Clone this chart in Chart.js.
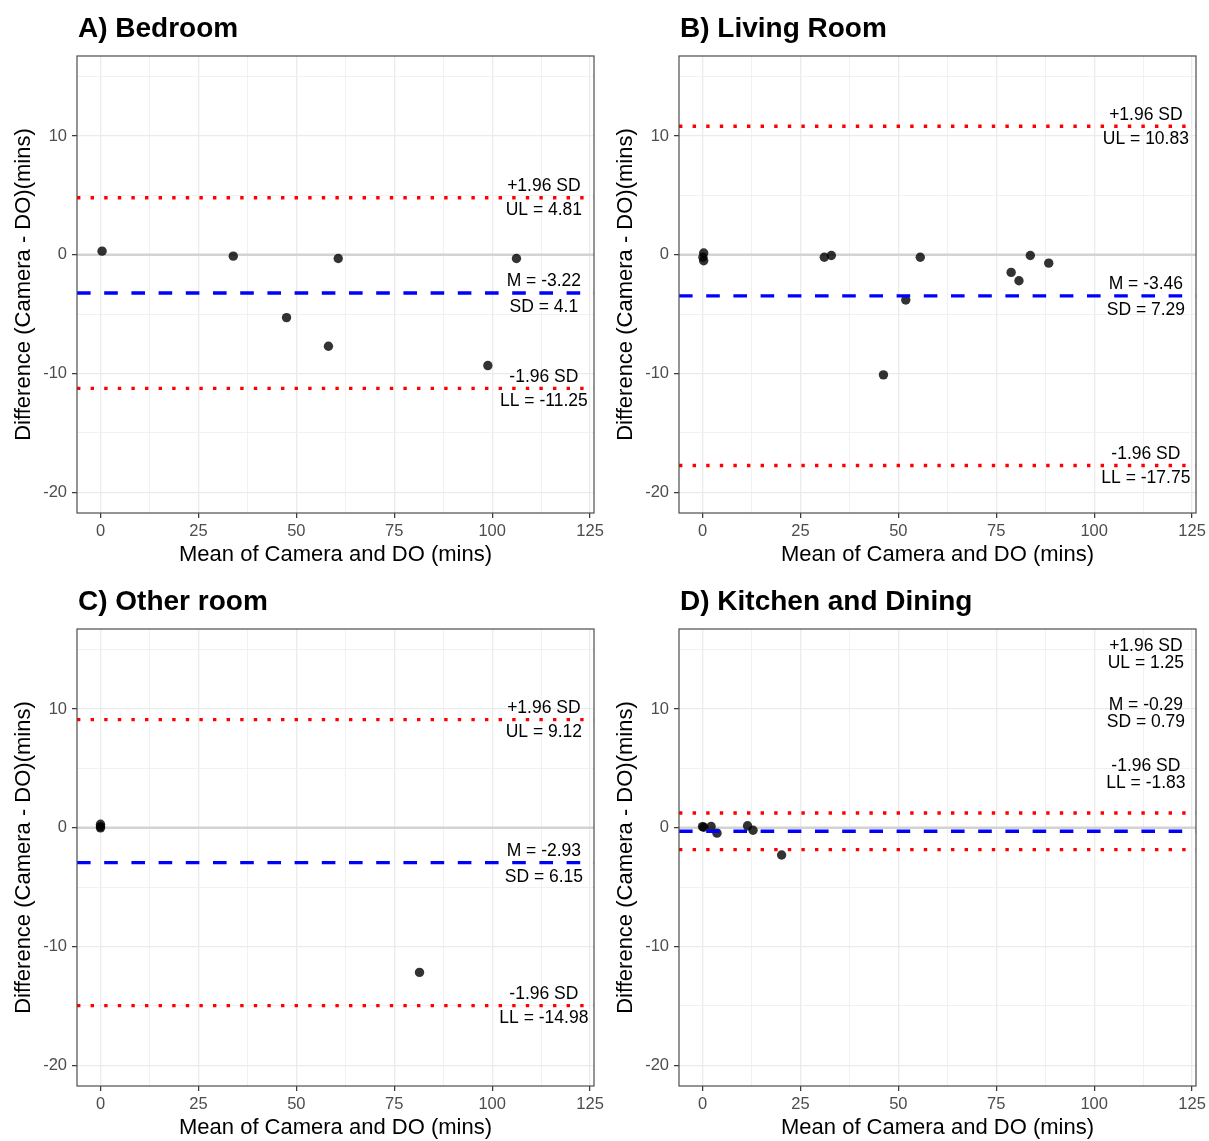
<!DOCTYPE html>
<html>
<head>
<meta charset="utf-8">
<script src="https://cdn.jsdelivr.net/npm/chart.js@4/dist/chart.umd.min.js"></script>
<style>
  body { margin: 0; background: #fff; }
  .panel { position: absolute; width: 604px; height: 572px; }
</style>
</head>
<body>
<div class="panel" style="left:0;top:0"><canvas id="bedroom"></canvas></div>
<div class="panel" style="left:602px;top:0"><canvas id="living"></canvas></div>
<div class="panel" style="left:0;top:573px"><canvas id="other"></canvas></div>
<div class="panel" style="left:602px;top:573px"><canvas id="kitchen"></canvas></div>
<script>
// Bland-Altman values
const panelTitles = ['A) Bedroom', 'B) Living Room', 'C) Other room', 'D) Kitchen and Dining'];

const bedroomX = [0.4, 33.9, 60.7, 106.2, 47.5, 58.2, 98.9];
const bedroomY = [0.31, -0.11, -0.31, -0.31, -5.29, -7.70, -9.33];

const livingX = [0.3, 0.1, 0.3, 31.1, 32.9, 55.6, 51.9, 46.2, 78.8, 80.8, 83.7, 88.4];
const livingY = [0.15, -0.2, -0.5, -0.2, -0.06, -0.2, -3.81, -10.11, -1.48, -2.18, -0.06, -0.7];

const otherX = [0, 0, 0, 81.45];
const otherY = [0.3, 0.1, 0, -12.18];

const kitchenX = [0, 0.3, 2.2, 3.7, 11.5, 12.9, 20.2];
const kitchenY = [0.1, 0.05, 0.11, -0.45, 0.17, -0.2, -2.29];

const means = [-3.22, -3.46, -2.93, -0.29];
const sds = [4.1, 7.29, 6.15, 0.79];
const upperLimits = [4.81, 10.83, 9.12, 1.25];
const lowerLimits = [-11.25, -17.75, -14.98, -1.83];

const xMajorTicks = [0, 25, 50, 75, 100, 125];
const xMinorTicks = [12.5, 37.5, 62.5, 87.5, 112.5];
const yMajorTicks = [-20, -10, 0, 10];
const yMinorTicks = [-15, -5, 5, 15];

const X_MIN = -6, X_MAX = 126;
const Y_MIN = -21.75, Y_MAX = 16.75;
const LABEL_X = 113.2;
const FONT = '"Liberation Sans", Arial, sans-serif';

Chart.defaults.font.family = FONT;
Chart.defaults.animation = false;

const panelFrame = {
    id: 'panelFrame',
    afterDraw(chart) {
        const {ctx, chartArea: a} = chart;
        ctx.save();
        ctx.strokeStyle = '#4d4d4d';
        ctx.lineWidth = 1.2;
        ctx.strokeRect(a.left, a.top, a.right - a.left, a.bottom - a.top);
        ctx.restore();
    }
};

const panelTitle = {
    id: 'panelTitle',
    afterDraw(chart, args, opts) {
        const ctx = chart.ctx;
        ctx.save();
        ctx.font = 'bold 28px ' + FONT;
        ctx.fillStyle = '#000';
        ctx.textAlign = 'left';
        ctx.textBaseline = 'middle';
        ctx.fillText(opts.text, 78, 29);
        ctx.restore();
    }
};

// text next to the limit lines
const refLabels = {
    id: 'refLabels',
    afterDatasetsDraw(chart, args, opts) {
        const {ctx, scales: {x, y}} = chart;
        ctx.save();
        ctx.font = '17.5px ' + FONT;
        ctx.fillStyle = '#000';
        ctx.textAlign = 'center';
        ctx.textBaseline = 'middle';
        const cx = x.getPixelForValue(LABEL_X);
        opts.pairs.forEach(p => {
            const py = y.getPixelForValue(p.at);
            ctx.fillText(p.top, cx, py - p.up);
            ctx.fillText(p.bottom, cx, py + p.down);
        });
        ctx.restore();
    }
};

const isMajor = (list, v) => list.some(t => Math.abs(t - v) < 1e-6);

function spanLine(y) {
    return [{x: X_MIN, y: y}, {x: X_MAX, y: y}];
}

function makePanel(id, idx, xs, ys, anchors, gapUp, gapDown, meanExtra) {
    const points = xs.map((x, i) => ({x: x, y: ys[i]}));
    const pairs = [
        {top: '+1.96 SD', bottom: 'UL = ' + upperLimits[idx], at: anchors[0], up: gapUp, down: gapDown},
        {top: 'M = ' + means[idx], bottom: 'SD = ' + sds[idx], at: anchors[1], up: gapUp, down: gapDown + meanExtra},
        {top: '-1.96 SD', bottom: 'LL = ' + lowerLimits[idx], at: anchors[2], up: gapUp, down: gapDown}
    ];

    new Chart(document.getElementById(id), {
        type: 'scatter',
        data: {
            datasets: [
                {type: 'line', data: spanLine(upperLimits[idx]), borderColor: '#ff0000', borderWidth: 3.3,
                 borderDash: [3.4, 10.2], pointRadius: 0, order: 0},
                {type: 'line', data: spanLine(means[idx]), borderColor: '#0000ff', borderWidth: 3.4,
                 borderDash: [13.6, 13.6], pointRadius: 0, order: 0},
                {type: 'line', data: spanLine(lowerLimits[idx]), borderColor: '#ff0000', borderWidth: 3.3,
                 borderDash: [3.4, 10.2], pointRadius: 0, order: 0},
                {data: points, backgroundColor: 'rgba(0,0,0,0.8)', borderWidth: 0, pointRadius: 4.7, order: 1},
                {type: 'line', data: spanLine(0), borderColor: '#d3d3d3', borderWidth: 2.6, pointRadius: 0, order: 2}
            ]
        },
        options: {
            responsive: true,
            maintainAspectRatio: false,
            layout: {padding: {top: 56, right: 10, left: 0, bottom: 0}},
            plugins: {
                legend: {display: false},
                tooltip: {enabled: false},
                panelTitle: {text: panelTitles[idx]},
                refLabels: {pairs: pairs}
            },
            scales: {
                x: {
                    type: 'linear',
                    min: X_MIN,
                    max: X_MAX,
                    afterBuildTicks: s => { s.ticks = xMajorTicks.concat(xMinorTicks).map(v => ({value: v})); },
                    afterFit: s => { s.height = 59; },
                    border: {display: false},
                    grid: {
                        color: c => isMajor(xMajorTicks, c.tick.value) ? '#ebebeb' : '#efefef',
                        lineWidth: c => isMajor(xMajorTicks, c.tick.value) ? 1.3 : 0.9,
                        tickLength: 5,
                        tickWidth: 1.2,
                        tickColor: c => isMajor(xMajorTicks, c.tick.value) ? '#333' : 'rgba(0,0,0,0)'
                    },
                    ticks: {
                        autoSkip: false,
                        maxRotation: 0,
                        padding: 4,
                        color: '#4d4d4d',
                        font: {size: 16.5},
                        callback: v => isMajor(xMajorTicks, v) ? String(v) : ''
                    },
                    title: {
                        display: true,
                        text: 'Mean of Camera and DO (mins)',
                        color: '#000',
                        font: {size: 22, lineHeight: 1.2},
                        padding: {top: 0, bottom: 4}
                    }
                },
                y: {
                    type: 'linear',
                    min: Y_MIN,
                    max: Y_MAX,
                    afterBuildTicks: s => { s.ticks = yMajorTicks.concat(yMinorTicks).map(v => ({value: v})); },
                    afterFit: s => { s.width = 77; },
                    border: {display: false},
                    grid: {
                        color: c => isMajor(yMajorTicks, c.tick.value) ? '#ebebeb' : '#efefef',
                        lineWidth: c => isMajor(yMajorTicks, c.tick.value) ? 1.3 : 0.9,
                        tickLength: 5,
                        tickWidth: 1.2,
                        tickColor: c => isMajor(yMajorTicks, c.tick.value) ? '#333' : 'rgba(0,0,0,0)'
                    },
                    ticks: {
                        autoSkip: false,
                        padding: 5,
                        color: '#4d4d4d',
                        font: {size: 16.5},
                        callback: v => isMajor(yMajorTicks, v) ? String(v) : ''
                    },
                    title: {
                        display: true,
                        text: 'Difference (Camera - DO)(mins)',
                        color: '#000',
                        font: {size: 22, lineHeight: 1.2},
                        padding: {top: 11.2, bottom: 0}
                    }
                }
            }
        },
        plugins: [panelFrame, panelTitle, refLabels]
    });
}

makePanel('bedroom', 0, bedroomX, bedroomY, [upperLimits[0], means[0], lowerLimits[0]], 11.5, 12.5, 2);
makePanel('living', 1, livingX, livingY, [upperLimits[1], means[1], lowerLimits[1]], 11.5, 12.5, 2);
makePanel('other', 2, otherX, otherY, [upperLimits[2], means[2], lowerLimits[2]], 11.5, 12.5, 2);
makePanel('kitchen', 3, kitchenX, kitchenY, [14.55, 9.6, 4.5], 8.5, 8.5, 0);
</script>
</body>
</html>
